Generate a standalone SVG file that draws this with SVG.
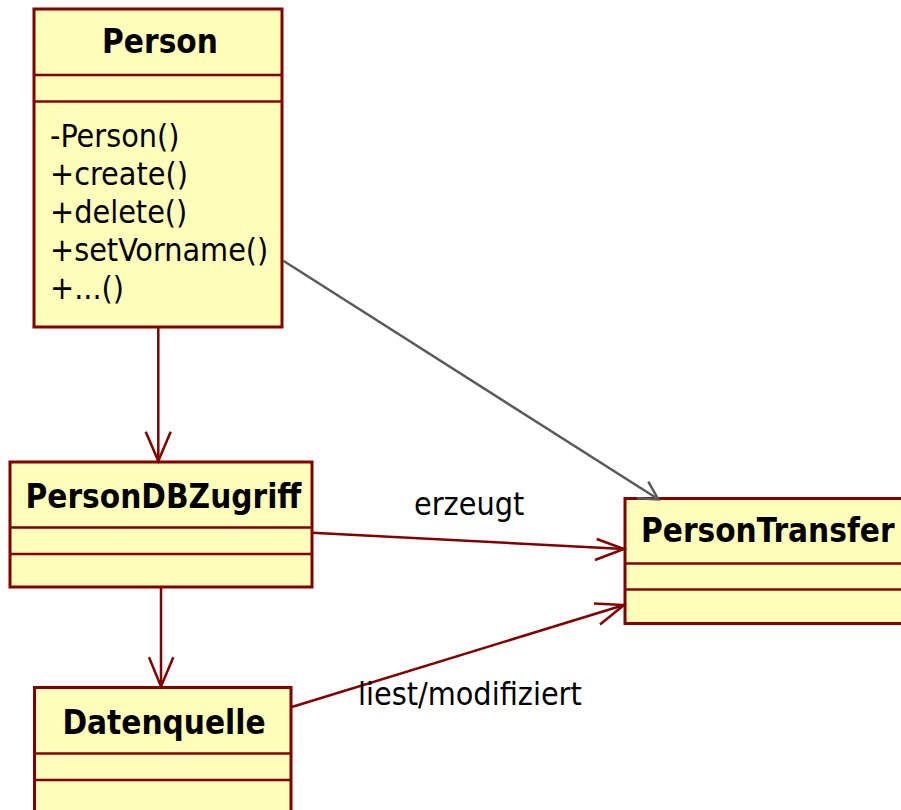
<svg xmlns="http://www.w3.org/2000/svg" width="901" height="810" viewBox="0 0 901 810">
  <defs>
    <style>
      .box { fill: #FFFFBB; stroke: #800000; stroke-width: 3; }
      .div { stroke: #800000; stroke-width: 2.5; fill: none; }
      .title { font-family: "DejaVu Sans Condensed", "DejaVu Sans", sans-serif; font-stretch: condensed; font-weight: bold; font-size: 33px; fill: #000; }
      .txt { font-family: "DejaVu Sans Condensed", "DejaVu Sans", sans-serif; font-stretch: condensed; font-size: 32px; fill: #000; }
      .assoc { stroke: #800000; stroke-width: 2.5; fill: none; }
      .dep { stroke: #5A5A5A; stroke-width: 2.5; fill: none; }
    </style>
  </defs>
  <rect width="901" height="810" fill="#FFFFFF"/>

  <!-- class Person -->
  <g id="person">
    <rect class="box" x="34" y="9" width="248" height="318"/>
    <line class="div" x1="34" y1="75" x2="282" y2="75"/>
    <line class="div" x1="34" y1="101.5" x2="282" y2="101.5"/>
    <text class="title" x="160" y="53" text-anchor="middle">Person</text>
    <text class="txt" x="50" y="147">-Person()</text>
    <text class="txt" x="50" y="185">+create()</text>
    <text class="txt" x="50" y="223">+delete()</text>
    <text class="txt" x="50" y="261">+setVorname()</text>
    <text class="txt" x="50" y="299">+...()</text>
  </g>

  <!-- class PersonDBZugriff -->
  <g id="persondbzugriff">
    <rect class="box" x="10" y="462" width="302" height="125"/>
    <line class="div" x1="10" y1="527.5" x2="312" y2="527.5"/>
    <line class="div" x1="10" y1="554" x2="312" y2="554"/>
    <text class="title" x="163.5" y="508" text-anchor="middle">PersonDBZugriff</text>
  </g>

  <!-- class Datenquelle -->
  <g id="datenquelle">
    <rect class="box" x="34.5" y="687.5" width="256.5" height="140"/>
    <line class="div" x1="34.5" y1="753.5" x2="291" y2="753.5"/>
    <line class="div" x1="34.5" y1="780" x2="291" y2="780"/>
    <text class="title" x="164" y="733.5" text-anchor="middle">Datenquelle</text>
  </g>

  <!-- class PersonTransfer -->
  <g id="persontransfer">
    <rect class="box" x="625" y="498.5" width="300" height="125"/>
    <line class="div" x1="625" y1="563.5" x2="925" y2="563.5"/>
    <line class="div" x1="625" y1="589.5" x2="925" y2="589.5"/>
    <text class="title" x="641" y="542">PersonTransfer</text>
  </g>

  <!-- associations and dependency -->
  <g id="connectors">
    <!-- Person -> PersonDBZugriff -->
    <line class="assoc" x1="158.3" y1="327" x2="158.3" y2="461"/>
    <polyline class="assoc" points="145.7,431.7 158.3,461 170.7,431.7"/>
    <!-- PersonDBZugriff -> Datenquelle -->
    <line class="assoc" x1="161" y1="587" x2="161" y2="686.5"/>
    <polyline class="assoc" points="149,657.3 161,686.5 173.3,657.3"/>
    <!-- PersonDBZugriff -> PersonTransfer (erzeugt) -->
    <line class="assoc" x1="312" y1="532.7" x2="624" y2="549"/>
    <polyline class="assoc" points="596.7,539 624,549 595,560"/>
    <text class="txt" x="414" y="515">erzeugt</text>
    <!-- Datenquelle -> PersonTransfer (liest/modifiziert) -->
    <line class="assoc" x1="291" y1="707.3" x2="624" y2="605"/>
    <polyline class="assoc" points="594,603.4 624,605 600,624.5"/>
    <text class="txt" x="358" y="705">liest/modifiziert</text>
    <!-- Person -> PersonTransfer (dependency) -->
    <line class="dep" x1="283.3" y1="260.7" x2="658.3" y2="499.3"/>
    <polyline class="dep" points="648.3,481.7 658.3,499.3 636.7,498.3"/>
  </g>
</svg>
